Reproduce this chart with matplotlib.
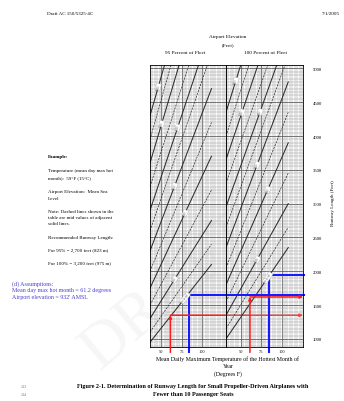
import numpy as np
import matplotlib
matplotlib.use("Agg")
import matplotlib.pyplot as plt

plt.rcParams['font.family'] = ['Liberation Serif', 'DejaVu Serif']

# airport elevation curves (feet), top-left to bottom-right
elev_labels = ["6000", "5500", "5000", "4500", "4000", "3500", "3000",
               "2500", "2000", "1500", "1000", "500", "Sea Level"]
is_dashed = [False, True, False, True, False, True, False,
             True, False, True, False, True, False]

# 95 percent of fleet: start (temp, length) -> end (temp, length)
t0_95 = [36, 36, 36, 36, 36, 36, 36, 36, 36, 36, 36, 36, 36]
l0_95 = [4300, 3950, 3600, 3250, 2900, 2600, 2300, 2000, 1750, 1500, 1300, 1100, 950]
t1_95 = [54, 62, 72, 84, 96, 107, 112, 112, 112, 112, 112, 112, 112]
l1_95 = [5050, 5050, 5050, 5050, 5050, 5050, 4700, 4200, 3700, 3200, 2750, 2400, 2100]

# 100 percent of fleet
t0_100 = [32, 32, 32, 32, 32, 32, 32, 32, 32, 32, 32, 32, 32]
l0_100 = [4350, 4000, 3650, 3300, 2950, 2650, 2350, 2050, 1800, 1550, 1350, 1150, 1000]
t1_100 = [50, 60, 71, 83, 94, 104, 108, 108, 108, 108, 108, 108, 108]
l1_100 = [5050, 5050, 5050, 5050, 5050, 5050, 4800, 4350, 3900, 3450, 3000, 2650, 2350]

temp_ticks = [50, 75, 100]
len_ticks = [1000, 1500, 2000, 2500, 3000, 3500, 4000, 4500, 5000]

# worked example drawn over the chart
red_temp = 61.2
blue_temp = 84
red_len = [1350, 1620]    # 95%, 100%
blue_len = [1650, 1950]

fig = plt.figure(figsize=(3.44, 4.02), dpi=100)

def fx(x):
    return x / 344

def fy(y):
    return 1 - y / 402

ax1 = fig.add_axes([fx(150), fy(348), fx(226) - fx(150), fy(66) - fy(348)])
ax2 = fig.add_axes([fx(226), fy(348), fx(303) - fx(226), fy(66) - fy(348)])

for ax, xl in ((ax1, (36, 130)), (ax2, (32, 126))):
    ax.set_xlim(*xl)
    ax.set_ylim(880, 5050)
    ax.set_xticks(temp_ticks)
    ax.set_xticks(np.arange(xl[0], xl[1] + 1, 3), minor=True)
    ax.set_yticks(len_ticks)
    ax.set_yticks(np.arange(900, 5051, 50), minor=True)
    ax.grid(which='minor', color='#9c9c9c', lw=0.35)
    ax.grid(which='major', color='#555555', lw=0.55)
    ax.set_axisbelow(True)
    ax.tick_params(which='both', length=0, labelsize=3.2, pad=1.5)
    ax.set_facecolor('none')
    for s in ax.spines.values():
        s.set_linewidth(0.6)

ax1.tick_params(axis='y', labelleft=False)
ax2.yaxis.tick_right()
ax2.tick_params(axis='y', labelright=True, labelsize=3.4, pad=7)

panels = ((ax1, t0_95, l0_95, t1_95, l1_95, 0.45),
          (ax2, t0_100, l0_100, t1_100, l1_100, 0.55))
for ax, t0, l0, t1, l1, frac in panels:
    for i in range(len(elev_labels)):
        ls = (0, (3, 1.5)) if is_dashed[i] else '-'
        lw = 0.5 if is_dashed[i] else 0.75
        ax.plot([t0[i], t1[i]], [l0[i], l1[i]], color='#2e2e2e', lw=lw, ls=ls)
        if not is_dashed[i]:
            f = frac + (0.12 if i % 4 == 0 else -0.05)
            tx = t0[i] + f * (t1[i] - t0[i])
            ly = l0[i] + f * (l1[i] - l0[i])
            p = ax.transData.transform([(t0[i], l0[i]), (t1[i], l1[i])])
            ang = np.degrees(np.arctan2(p[1, 1] - p[0, 1], p[1, 0] - p[0, 0]))
            ax.text(tx, ly, elev_labels[i], fontsize=2.0, color='#555555',
                    rotation=ang, ha='center', va='center', rotation_mode='anchor',
                    bbox=dict(facecolor='white', edgecolor='#aaaaaa', lw=0.2, pad=0.3))

# blue example lines
ax1.plot([blue_temp, blue_temp, 130], [800, blue_len[0], blue_len[0]],
         color='#1a1aff', lw=1.5, clip_on=False, solid_joinstyle='miter')
ax2.plot([32, 127], [blue_len[0], blue_len[0]], color='#1a1aff', lw=1.5, clip_on=False)
ax2.plot([blue_temp, blue_temp, 127], [800, blue_len[1], blue_len[1]],
         color='#1a1aff', lw=1.5, clip_on=False, solid_joinstyle='miter')

# red example arrows
red = dict(arrowstyle='-|>', color='#ff1a1a', lw=1.1, mutation_scale=4,
           shrinkA=0, shrinkB=0)
ax1.annotate('', xy=(red_temp, red_len[0]), xytext=(red_temp, 800),
             arrowprops=red, annotation_clip=False)
ax1.annotate('', xy=(126, red_len[0]), xycoords=ax2.transData,
             xytext=(red_temp, red_len[0]), textcoords=ax1.transData,
             arrowprops=red, annotation_clip=False)
ax2.annotate('', xy=(red_temp, red_len[1]), xytext=(red_temp, 800),
             arrowprops=red, annotation_clip=False)
ax2.annotate('', xy=(126, red_len[1]), xytext=(red_temp, red_len[1]),
             arrowprops=red, annotation_clip=False)

# watermark
fig.text(fx(170), fy(292), "DRAFT", rotation=40, fontsize=46, color='#f6f6f6',
         ha='center', va='center', zorder=-1)

# page text
fig.text(fx(47), fy(14), "Draft AC 150/5325-4C", fontsize=3.6, va='center')
fig.text(fx(340), fy(14), "7/1/2005", fontsize=3.6, va='center', ha='right')
fig.text(fx(228), fy(37), "Airport Elevation", fontsize=3.8, ha='center', va='center')
fig.text(fx(228), fy(45), "(Feet)", fontsize=3.8, ha='center', va='center')
fig.text(fx(185), fy(53), "95 Percent of Fleet", fontsize=3.8, ha='center', va='center')
fig.text(fx(265), fy(53), "100 Percent of Fleet", fontsize=3.8, ha='center', va='center')
fig.text(fx(333), fy(203), "Runway Length (Feet)", fontsize=3.6, rotation=90,
         ha='center', va='center')

body = [(157, "Example:", 'bold'),
        (171, "Temperature (mean day max hot", 'normal'),
        (178, "month):  59\u00b0F (15\u00b0C)", 'normal'),
        (192, "Airport Elevation:  Mean Sea", 'normal'),
        (199, "Level", 'normal'),
        (212, "Note: Dashed lines shown in the", 'normal'),
        (218, "table are mid values of adjacent", 'normal'),
        (224, "solid lines.", 'normal'),
        (238, "Recommended Runway Length:", 'normal'),
        (251, "For 95% = 2,700 feet (823 m)", 'normal'),
        (264, "For 100% = 3,200 feet (975 m)", 'normal')]
for y, s, w in body:
    fig.text(fx(48), fy(y), s, fontsize=3.6, fontweight=w, va='center')

blue_txt = ["(d) Assumptions:", "Mean day max hot month = 61.2 degrees",
            "Airport elevation = 932' AMSL"]
for k, s in enumerate(blue_txt):
    fig.text(fx(12), fy(284 + 6.5 * k), s, fontsize=4.3, color='#4b3fd0', va='center')

fig.text(fx(228), fy(359), "Mean Daily Maximum Temperature of the Hottest Month of",
         fontsize=4.2, ha='center', va='center')
fig.text(fx(228), fy(367), "Year", fontsize=4.2, ha='center', va='center')
fig.text(fx(228), fy(374), "(Degrees F)", fontsize=4.2, ha='center', va='center')

fig.text(fx(193), fy(387), "Figure 2-1. Determination of Runway Length for Small "
         "Propeller-Driven Airplanes with", fontsize=4.4, fontweight='bold',
         ha='center', va='center')
fig.text(fx(193), fy(395), "Fewer than 10 Passenger Seats", fontsize=4.4,
         fontweight='bold', ha='center', va='center')
fig.text(fx(24), fy(387), "133", fontsize=3, color='#777777', va='center', ha='center')
fig.text(fx(24), fy(395), "134", fontsize=3, color='#777777', va='center', ha='center')

fig.savefig("out.png", dpi=100)
